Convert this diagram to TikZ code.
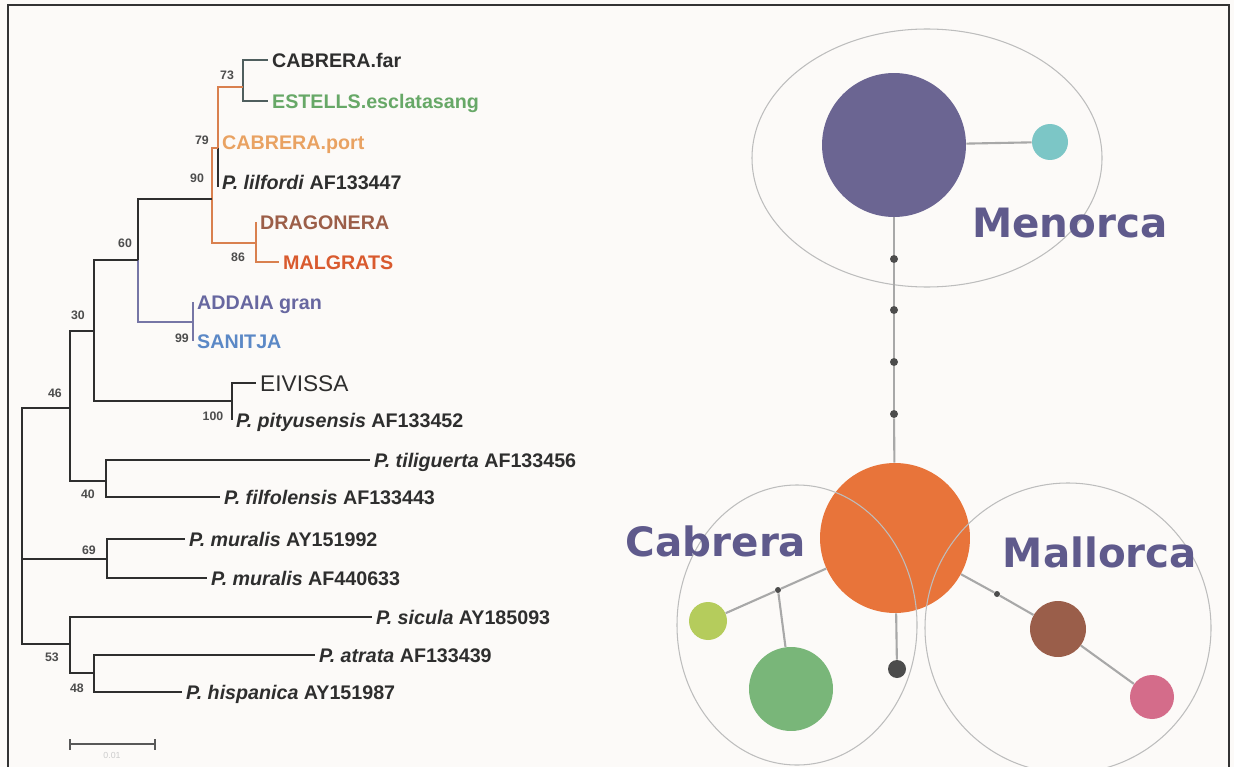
\documentclass[tikz,border=0pt]{standalone}
\usepackage{fontspec}
\setmainfont{Liberation Sans}
\newfontfamily\islandfont{DejaVu Sans}
\usepackage{tikz}
\definecolor{treeblack}{HTML}{2E2E2E}
\definecolor{treeorange}{HTML}{D9804F}
\definecolor{treegray}{HTML}{4F5E5E}
\definecolor{treepurple}{HTML}{7676A6}
\definecolor{estgreen}{HTML}{67A867}
\definecolor{portorange}{HTML}{E9A262}
\definecolor{dragbrown}{HTML}{9C5E48}
\definecolor{malred}{HTML}{D95A2E}
\definecolor{addpurple}{HTML}{6767A0}
\definecolor{sanblue}{HTML}{5B88C6}
\definecolor{islandtext}{HTML}{5F5A8C}
\definecolor{netline}{HTML}{A8A8A8}
\definecolor{ringgray}{HTML}{BDBDBD}
\definecolor{paper}{HTML}{FCFAF8}
\definecolor{menpurple}{HTML}{6B6592}
\definecolor{menteal}{HTML}{7CC6C6}
\definecolor{caborange}{HTML}{E8743A}
\definecolor{cablime}{HTML}{B5CC5C}
\definecolor{cabgreen}{HTML}{79B679}
\definecolor{malbrown}{HTML}{9A5E4A}
\definecolor{malpink}{HTML}{D46C8A}

\begin{document}
\begin{tikzpicture}[x=0.02cm, y=-0.02cm,
        tip/.style={anchor=west, inner xsep=2.2pt, inner ysep=0pt, text height=8pt, text depth=0pt,
            font=\bfseries\fontsize{11.2}{13}\selectfont, text=treeblack},
        boot/.style={inner sep=0pt, font=\bfseries\fontsize{7}{8}\selectfont, text=treeblack!85},
        branch/.style={line width=1.1pt, treeblack},
        hap/.style={circle, inner sep=0pt, draw=none},
        mv/.style={circle, inner sep=0pt, minimum size=0.16cm, fill=black!70},
        netlink/.style={netline, line width=1.2pt},
        ring/.style={ringgray, line width=0.6pt},
        island/.style={font=\islandfont\bfseries\fontsize{23}{26}\selectfont, text=islandtext}]
        \useasboundingbox (0,0) rectangle (1234,767);
        \fill[paper] (0,0) rectangle (1234,767);
        \draw[black!80, line width=1.4pt] (8,800) -- (8,5) -- (1229,5) -- (1229,800);

        \coordinate (root) at (22,559);
        \coordinate (n46) at (70,408);
        \coordinate (n30) at (94,331);
        \coordinate (n60) at (138,260);
        \coordinate (n90) at (212,199);
        \coordinate (n79) at (218,148);
        \coordinate (n73) at (243,87);
        \coordinate (n86) at (256,243);
        \coordinate (n99) at (193,322);
        \coordinate (n100) at (232,401);
        \coordinate (n40) at (106,481);
        \coordinate (n69) at (107,559);
        \coordinate (n53) at (70,644);
        \coordinate (n48) at (94,673);

        \node[tip] (tFar) at (268,60) {CABRERA.far};
        \node[tip, text=estgreen] (tEst) at (268,101) {ESTELLS.esclatasang};
        \node[tip, text=portorange] (tPort) at (218,142) {CABRERA.port};
        \node[tip] (tLil) at (218,182) {\textit{P. lilfordi} AF133447};
        \node[tip, text=dragbrown] (tDrag) at (256,222) {DRAGONERA};
        \node[tip, text=malred] (tMal) at (279,262) {MALGRATS};
        \node[tip, text=addpurple] (tAdd) at (193,302) {ADDAIA gran};
        \node[tip, text=sanblue] (tSan) at (193,341) {SANITJA};
        \node[tip, text height=9.3pt, font=\fontsize{12.9}{15}\selectfont] (tEiv) at (256,383) {EIVISSA};
        \node[tip] (tPit) at (232,420) {\textit{P. pityusensis} AF133452};
        \node[tip] (tTil) at (370,460) {\textit{P. tiliguerta} AF133456};
        \node[tip] (tFil) at (220,497) {\textit{P. filfolensis} AF133443};
        \node[tip] (tMu1) at (185,539) {\textit{P. muralis} AY151992};
        \node[tip] (tMu2) at (207,578) {\textit{P. muralis} AF440633};
        \node[tip] (tSic) at (372,617) {\textit{P. sicula} AY185093};
        \node[tip] (tAtr) at (315,655) {\textit{P. atrata} AF133439};
        \node[tip] (tHis) at (182,692) {\textit{P. hispanica} AY151987};

        \draw[branch, treegray] (n73) |- (tFar.west);
        \draw[branch, treegray] (n73) |- (tEst.west);
        \draw[branch, treeorange] (n79) |- (n73);
        \draw[branch, treeorange] (n79) |- (tPort.west);
        \draw[branch] (n79) -- ([yshift=-3pt]tLil.west);
        \draw[branch, treeorange] (n90) |- (n79);
        \draw[branch, treeorange] (n90) |- (n86);
        \draw[branch, treeorange] (n86) |- (tDrag.west);
        \draw[branch, treeorange] (n86) |- (tMal.west);
        \draw[branch] (n60) |- (n90);
        \draw[branch, treepurple] (n60) |- (n99);
        \draw[branch, treepurple] (n99) |- (tAdd.west);
        \draw[branch, treepurple] (n99) |- (tSan.west);
        \draw[branch] (n30) |- (n60);
        \draw[branch] (n30) |- (n100);
        \draw[branch] (n100) |- (tEiv.west);
        \draw[branch] (n100) |- (tPit.west);
        \draw[branch] (n46) |- (n30);
        \draw[branch] (n46) |- (n40);
        \draw[branch] (n40) |- (tTil.west);
        \draw[branch] (n40) |- (tFil.west);
        \draw[branch] (root) |- (n46);
        \draw[branch] (root) -- (n69);
        \draw[branch] (root) |- (n53);
        \draw[branch] (n69) |- (tMu1.west);
        \draw[branch] (n69) |- (tMu2.west);
        \draw[branch] (n53) |- (tSic.west);
        \draw[branch] (n53) |- (n48);
        \draw[branch] (n48) |- (tAtr.west);
        \draw[branch] (n48) |- (tHis.west);

        \node[boot] (b73) at (227,75) {73};
        \node[boot] (b79) at (202,140) {79};
        \node[boot] (b90) at (197,178) {90};
        \node[boot] (b86) at (238,257) {86};
        \node[boot] (b60) at (125,243) {60};
        \node[boot] (b99) at (182,338) {99};
        \node[boot] (b30) at (78,315) {30};
        \node[boot] (b100) at (213,416) {100};
        \node[boot] (b46) at (55,393) {46};
        \node[boot] (b40) at (88,494) {40};
        \node[boot] (b69) at (89,550) {69};
        \node[boot] (b53) at (52,657) {53};
        \node[boot] (b48) at (77,688) {48};

        \draw[treeblack!80, line width=0.6pt] (70,744) -- (155,744);
        \draw[treeblack!80, line width=0.6pt] (70,739) -- (70,750);
        \draw[treeblack!80, line width=0.6pt] (155,739) -- (155,750);
        \node[inner sep=0pt, font=\fontsize{5}{6}\selectfont, text=black!20] (sbar) at (112,755) {0.01};

        \draw[ring] (927,158) ellipse [x radius=175, y radius=129];

        \node[hap, fill=menpurple, minimum size=2.88cm] (menP) at (894,145) {};
        \node[hap, fill=menteal, minimum size=0.72cm] (menT) at (1050,142) {};
        \foreach \i/\y in {1/259,2/310,3/362,4/414}
            \node[mv] (d\i) at (894,\y) {};
        \node[hap, fill=caborange, minimum size=3cm] (cabO) at (895,538) {};
        \node[hap, fill=cablime, minimum size=0.76cm] (cabY) at (708,621) {};
        \node[mv, minimum size=0.12cm] (cabD) at (778,590) {};
        \node[hap, fill=cabgreen, minimum size=1.68cm] (cabG) at (791,689) {};
        \node[hap, fill=black!70, minimum size=0.36cm] (cabK) at (897,669) {};
        \node[mv, minimum size=0.12cm] (malD) at (997,594) {};
        \node[hap, fill=malbrown, minimum size=1.12cm] (malB) at (1058,629) {};
        \node[hap, fill=malpink, minimum size=0.88cm] (malP) at (1152,697) {};

        \draw[netlink] (menP) -- (menT);
        \draw[netlink] (menP) -- (d1);
        \foreach \a/\b in {1/2,2/3,3/4}
            \draw[netlink] (d\a) -- (d\b);
        \draw[netlink] (d4) -- (cabO);
        \draw[netlink] (cabO) -- (cabD);
        \draw[netlink] (cabD) -- (cabY);
        \draw[netlink] (cabD) -- (cabG);
        \draw[netlink] (cabO) -- (cabK);
        \draw[netlink] (cabO) -- (malD);
        \draw[netlink] (malD) -- (malB);
        \draw[netlink] (malB) -- (malP);

        \draw[ring] (797,625) ellipse [x radius=120, y radius=140];
        \draw[ring] (1068,628) ellipse [x radius=143, y radius=145];

        \node[island] (lMen) at (1070,223) {Menorca};
        \node[island] (lCab) at (716,541) {Cabrera};
        \node[island] (lMal) at (1100,552) {Mallorca};
    \end{tikzpicture}
\end{document}
